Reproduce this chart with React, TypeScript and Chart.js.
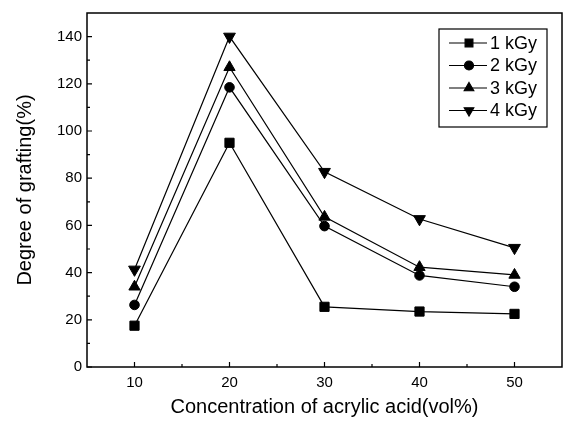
import React, { useEffect, useRef } from 'react';
import { Chart, registerables } from 'chart.js';
import { drawPoint } from 'chart.js/helpers';

Chart.register(...registerables);

const concentrations = [10, 20, 30, 40, 50];
const dose1 = [17.5, 95, 25.5, 23.5, 22.5];
const dose2 = [26.3, 118.5, 59.7, 38.8, 34];
const dose3 = [34, 127, 63.6, 42.3, 39];
const dose4 = [41.3, 140, 82.7, 62.7, 50.5];
const seriesLabels = ['1 kGy', '2 kGy', '3 kGy', '4 kGy'];
const xTicks = [10, 20, 30, 40, 50];
const yTicks = [0, 20, 40, 60, 80, 100, 120, 140];
const xMinor = [15, 25, 35, 45];
const yMinor = [10, 30, 50, 70, 90, 110, 130];

const FONT = "'Liberation Sans', Arial, Helvetica, sans-serif";

const styles = [
  { pointStyle: 'rect', radius: 6.5, rotation: 0 },
  { pointStyle: 'circle', radius: 4.8, rotation: 0 },
  { pointStyle: 'triangle', radius: 6.5, rotation: 0 },
  { pointStyle: 'triangle', radius: 6.8, rotation: 180 },
];

const framePlugin = {
  id: 'frameTicks',
  afterDraw(chart: any) {
    const { ctx, chartArea: ca } = chart;
    const xs = chart.scales.x;
    const ys = chart.scales.y;
    ctx.save();
    ctx.strokeStyle = '#000';
    ctx.lineWidth = 1.5;
    ctx.strokeRect(ca.left, ca.top, ca.right - ca.left, ca.bottom - ca.top);
    ctx.lineWidth = 1.2;
    ctx.beginPath();
    xTicks.forEach((v) => {
      const px = xs.getPixelForValue(v);
      ctx.moveTo(px, ca.bottom);
      ctx.lineTo(px, ca.bottom - 5);
    });
    xMinor.forEach((v) => {
      const px = xs.getPixelForValue(v);
      ctx.moveTo(px, ca.bottom);
      ctx.lineTo(px, ca.bottom - 3);
    });
    yTicks.forEach((v) => {
      const py = ys.getPixelForValue(v);
      ctx.moveTo(ca.left, py);
      ctx.lineTo(ca.left + 5, py);
    });
    yMinor.forEach((v) => {
      const py = ys.getPixelForValue(v);
      ctx.moveTo(ca.left, py);
      ctx.lineTo(ca.left + 3, py);
    });
    ctx.stroke();

    // legend box
    const boxR = ca.right - 15;
    const boxT = ca.top + 16;
    const boxW = 108;
    const boxH = 98;
    const boxL = boxR - boxW;
    ctx.lineWidth = 1.2;
    ctx.strokeRect(boxL, boxT, boxW, boxH);
    ctx.font = `18px ${FONT}`;
    ctx.fillStyle = '#000';
    ctx.textBaseline = 'middle';
    ctx.textAlign = 'left';
    chart.data.datasets.forEach((ds: any, i: number) => {
      const cy = boxT + 14 + i * 22.5;
      ctx.beginPath();
      ctx.lineWidth = 1.2;
      ctx.moveTo(boxL + 10, cy);
      ctx.lineTo(boxL + 48, cy);
      ctx.stroke();
      const st = styles[i];
      const r = st.pointStyle === 'circle' ? 4.5 : 5.5;
      drawPoint(ctx, { pointStyle: st.pointStyle, radius: r, rotation: st.rotation, borderWidth: 1 }, boxL + 30, cy);
      ctx.fillText(ds.label, boxL + 51, cy + 1);
    });
    ctx.restore();
  },
};

export default function App() {
  const ref = useRef<HTMLCanvasElement>(null);
  useEffect(() => {
    document.body.style.margin = '0';
    const series = [dose1, dose2, dose3, dose4];
    const chart = new Chart(ref.current!, {
      type: 'line',
      data: {
        datasets: series.map((vals, i) => ({
          label: seriesLabels[i],
          data: concentrations.map((c, j) => ({ x: c, y: vals[j] })),
          borderColor: '#000',
          backgroundColor: '#000',
          borderWidth: 1.2,
          pointStyle: styles[i].pointStyle as any,
          pointRadius: styles[i].radius,
          pointRotation: styles[i].rotation,
          pointBorderWidth: 1,
          pointBorderColor: '#000',
          pointBackgroundColor: '#000',
          tension: 0,
          fill: false,
        })),
      },
      options: {
        responsive: false,
        maintainAspectRatio: false,
        animation: false,
        layout: { autoPadding: false, padding: { top: 13, right: 2, left: 0, bottom: 0 } },
        plugins: { legend: { display: false }, tooltip: { enabled: false } },
        scales: {
          x: {
            type: 'linear',
            min: 5,
            max: 55,
            afterBuildTicks: (s: any) => {
              s.ticks = xTicks.map((v) => ({ value: v }));
            },
            afterFit: (s: any) => {
              s.height = 54;
              s.paddingLeft = 0;
              s.paddingRight = 0;
            },
            grid: { display: false, drawTicks: false },
            border: { display: false },
            ticks: {
              color: '#000',
              padding: 7,
              font: { family: FONT, size: 15 },
              maxRotation: 0,
              autoSkip: false,
            },
            title: {
              display: true,
              text: 'Concentration of acrylic acid(vol%)',
              color: '#000',
              font: { family: FONT, size: 20 },
              padding: { top: 0, bottom: 2 },
            },
          },
          y: {
            type: 'linear',
            min: 0,
            max: 150,
            afterBuildTicks: (s: any) => {
              s.ticks = yTicks.map((v) => ({ value: v }));
            },
            afterFit: (s: any) => {
              s.width = 87;
              s.paddingTop = 0;
              s.paddingBottom = 0;
            },
            grid: { display: false, drawTicks: false },
            border: { display: false },
            ticks: {
              color: '#000',
              padding: 5,
              font: { family: FONT, size: 15 },
              autoSkip: false,
            },
            title: {
              display: true,
              text: 'Degree of grafting(%)',
              color: '#000',
              font: { family: FONT, size: 20 },
              padding: { top: 13, bottom: 0 },
            },
          },
        },
      },
      plugins: [framePlugin],
    });
    return () => chart.destroy();
  }, []);
  return (
    <div style={{ width: 564, height: 421 }}>
      <canvas ref={ref} width={564} height={421} />
    </div>
  );
}
